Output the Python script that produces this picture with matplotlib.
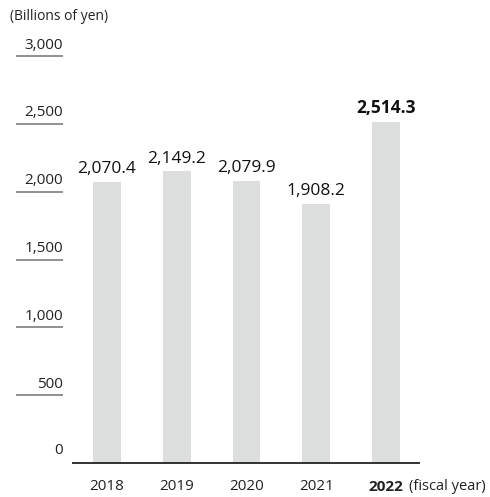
import matplotlib
matplotlib.use('Agg')
import matplotlib.pyplot as plt

plt.rcParams['font.family'] = ['Open Sans', 'DejaVu Sans']

# Data
years = ['2018', '2019', '2020', '2021', '2022']
values = [2070.4, 2149.2, 2079.9, 1908.2, 2514.3]
value_labels = ['2,070.4', '2,149.2', '2,079.9', '1,908.2', '2,514.3']
yticks = [500, 1000, 1500, 2000, 2500, 3000]
ytick_labels = ['500', '1,000', '1,500', '2,000', '2,500', '3,000']

W, H = 490, 497
fig = plt.figure(figsize=(W / 100, H / 100), dpi=100)

# axes spans from the tick underlines (x=16px) to the end of the baseline (x=420px)
left_px, right_px, top_px, bot_px = 16, 420, 56, 463
ax = fig.add_axes([left_px / W, 1 - bot_px / H,
                   (right_px - left_px) / W, (bot_px - top_px) / H])
step = 69.75
ax.set_xlim((left_px - 107) / step, (right_px - 107) / step)
ax.set_ylim(0, 3000)
ax.axis('off')

x = list(range(len(years)))
ax.bar(x, values, width=0.40, color='#dcdddd', zorder=1)

# baseline
x0 = (72 - 107) / step
ax.hlines(0, x0, ax.get_xlim()[1], color='#222222', lw=1.3, zorder=3, clip_on=False)

# y ticks: label above short grey underline
ul0 = ax.get_xlim()[0]
ul1 = (63 - 107) / step
for v, lab in zip(yticks, ytick_labels):
    ax.hlines(v, ul0, ul1, color='#888888', lw=1.3, clip_on=False)
    ax.annotate(lab, (ul1, v), xytext=(0, 2.5), textcoords='offset points',
                ha='right', va='bottom', fontsize=11, color='#222222',
                annotation_clip=False)
ax.annotate('0', (ul1, 0), xytext=(0, 3.5), textcoords='offset points',
            ha='right', va='bottom', fontsize=11, color='#222222',
            annotation_clip=False)

# value labels
for i, (v, lab) in enumerate(zip(values, value_labels)):
    bold = i == len(values) - 1
    ax.annotate(lab, (i, v), xytext=(0, 3.5), textcoords='offset points',
                ha='center', va='bottom', fontsize=12.5, color='#111111',
                fontweight='bold' if bold else 'normal')

# x labels
for i, yr in enumerate(years):
    bold = i == len(years) - 1
    ax.annotate(yr, (i, 0), xytext=(0, -17), textcoords='offset points',
                ha='center', va='center', fontsize=11, color='#222222',
                fontweight='bold' if bold else 'normal', annotation_clip=False)
ax.annotate('(fiscal year)', (4.33, 0), xytext=(0, -17), textcoords='offset points',
            ha='left', va='center', fontsize=10.5, color='#222222',
            annotation_clip=False)

fig.text(10 / W, 1 - 17 / H, '(Billions of yen)', ha='left', va='center',
         fontsize=10, color='#222222')

fig.savefig('out.png', dpi=100)
